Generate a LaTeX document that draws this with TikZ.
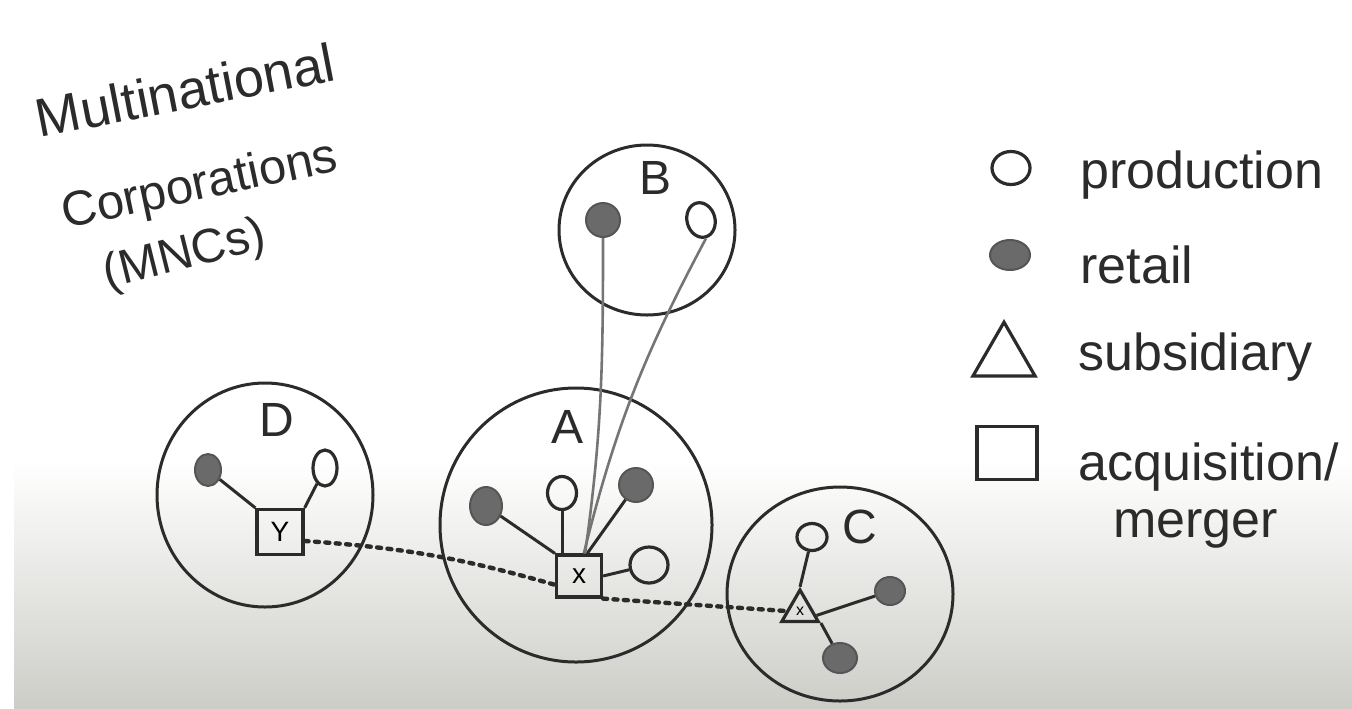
\documentclass[tikz,border=0pt]{standalone}
\usepackage{fontspec}
\setmainfont{Liberation Sans}
\usetikzlibrary{shapes.geometric}
\definecolor{ink}{HTML}{2B2B2B}
\definecolor{dotfill}{HTML}{6A6A6A}
\definecolor{papermid}{HTML}{E6E6E3}
\definecolor{paperlow}{HTML}{CDCDC8}
\begin{document}
\begin{tikzpicture}[x=0.5pt,y=-0.5pt,
  region/.style={ellipse, draw=ink, line width=1.5pt, inner sep=0pt},
  prod/.style={ellipse, draw=ink, line width=1.6pt, inner sep=0pt},
  retail/.style={ellipse, draw=ink!80, line width=1pt, fill=dotfill, inner sep=0pt},
  acq/.style={rectangle, draw=ink, line width=1.6pt, inner sep=0pt, font=\fontsize{14}{16}\selectfont},
  subs/.style={regular polygon, regular polygon sides=3, draw=ink, line width=1.6pt, inner sep=0pt},
  link/.style={draw=ink, line width=1.5pt},
  far/.style={draw=ink!65, line width=1.3pt},
  dots/.style={draw=ink, line width=2.2pt, dash pattern=on 2pt off 3.2pt, line cap=round},
  lbl/.style={font=\fontsize{24}{28}\selectfont, text=ink, inner sep=0pt},
  ttl/.style={text=ink, inner sep=0pt},
  legtxt/.style={font=\fontsize{26}{30}\selectfont, text=ink, anchor=base west, inner sep=0pt}
]
\useasboundingbox (0,0) rectangle (1352,708);
\fill[white] (0,0) rectangle (1352,708);
\shade[top color=white, middle color=papermid, bottom color=paperlow] (14,460) rectangle (1352,708);

% title
\node[ttl, rotate=11, font=\fontsize{27}{30}\selectfont] (t1) at (185,90) {Multinational};
\node[ttl, rotate=12, font=\fontsize{24.5}{28}\selectfont] (t2) at (200,187) {Corporations};
\node[ttl, rotate=14, font=\fontsize{24}{28}\selectfont] (t3) at (185,256) {(MNCs)};

% regions
\node[region, minimum width=108pt, minimum height=112pt] (D) at (265,495) {};
\node[region, minimum width=136pt, minimum height=137pt] (A) at (576,525) {};
\node[region, minimum width=88pt, minimum height=85pt] (B) at (647,230) {};
\node[region, minimum width=113pt, minimum height=107pt] (C) at (840,594) {};

\node[lbl] (Dl) at (277,420) {D};
\node[lbl] (Al) at (567,427) {A};
\node[lbl] (Bl) at (655,178) {B};
\node[lbl] (Cl) at (860,527) {C};

% D contents
\node[retail, minimum width=13pt, minimum height=16pt] (dD) at (208,470) {};
\node[prod, minimum width=12pt, minimum height=18pt] (pD) at (325,468) {};
\node[acq, minimum width=23pt, minimum height=22.5pt] (sD) at (280,532) {Y};

% A contents
\node[retail, minimum width=16pt, minimum height=19pt] (dAl) at (486,506) {};
\node[prod, minimum width=14.5pt, minimum height=16.5pt] (pAt) at (562,493) {};
\node[retail, minimum width=17pt, minimum height=17pt] (dAr) at (636,485) {};
\node[prod, minimum width=19pt, minimum height=18pt] (pAr) at (649,565) {};
\node[acq, minimum width=22.5pt, minimum height=21pt] (sA) at (579,576) {x};

% B contents
\node[retail, minimum width=17pt, minimum height=17pt] (dB) at (603,220) {};
\node[prod, rotate=15, minimum width=14pt, minimum height=17.5pt] (pB) at (701,220) {};

% C contents
\node[prod, minimum width=15pt, minimum height=13.5pt] (pC) at (812,537) {};
\node[subs, minimum size=21pt, font=\fontsize{8}{9}\selectfont] (tC) at (800,611) {x};
\node[retail, minimum width=15pt, minimum height=14pt] (dCr) at (890,591) {};
\node[retail, minimum width=17pt, minimum height=15pt] (dCb) at (840,658) {};

% links
\draw[link] (dD) -- (sD.north west);
\draw[link] (pD) -- (sD.north east);
\draw[link] (dAl) -- (sA.north west);
\draw[link] (pAt.south) -- (pAt.south |- sA.north);
\draw[link] (dAr) -- (sA.70);
\draw[link] (pAr) -- (sA.east);
\draw[far] (dB.south) to[out=-90, in=82] (sA.75);
\draw[far] (pB.south) to[out=-118, in=76] (sA.78);
\draw[link] (pC) -- (tC.corner 1);
\draw[link] (tC.-15) -- (dCr);
\draw[link] (tC.corner 3) -- (dCb);

% dotted ties
\draw[dots] (sD.-20) to[bend left=6] (sA.-160);
\draw[dots] (sA.south east) -- (tC.west);

% legend
\node[prod, minimum width=19pt, minimum height=16.5pt] (lp) at (1011,168) {};
\node[legtxt] (lpt) at (1080,188) {production};
\node[retail, minimum width=20pt, minimum height=15pt] (lr) at (1010,255) {};
\node[legtxt] (lrt) at (1080,283) {retail};
\node[subs, minimum size=35.8pt] (ls) at (1004,358) {};
\node[legtxt] (lst) at (1078,370) {subsidiary};
\node[acq, minimum width=30pt, minimum height=26.5pt] (la) at (1007,453) {};
\node[legtxt] (lat) at (1078,480) {acquisition/};
\node[legtxt] (lmt) at (1113,537) {merger};
\end{tikzpicture}
\end{document}
